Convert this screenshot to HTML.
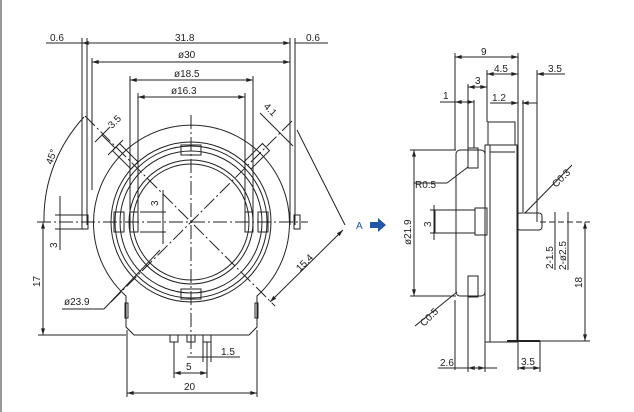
<!DOCTYPE html>
<html><head><meta charset="utf-8"><style>
html,body{margin:0;padding:0;background:#fff;}
svg{display:block;}
text{font-family:"Liberation Sans",sans-serif;font-size:10px;fill:#222;}
</style></head><body>
<svg width="634" height="412" viewBox="0 0 634 412" xmlns="http://www.w3.org/2000/svg">
<defs>
<marker id="a" viewBox="0 0 10 6" refX="10" refY="3" markerWidth="8" markerHeight="4" orient="auto-start-reverse"><path d="M0,0L10,3L0,6z" fill="#222"/></marker>
</defs>
<line x1="1" y1="0" x2="1" y2="412" stroke="#999" stroke-width="2"/>
<g stroke="#222" stroke-width="1" fill="none">
<line x1="46" y1="43" x2="82" y2="43"/><line x1="82" y1="43" x2="290" y2="43" marker-start="url(#a)" marker-end="url(#a)"/><line x1="295" y1="43" x2="328" y2="43"/>
<line x1="82" y1="38" x2="82" y2="225"/><line x1="87" y1="38" x2="87" y2="225"/>
<line x1="290" y1="38" x2="290" y2="225"/><line x1="295" y1="38" x2="295" y2="225"/>
<line x1="92" y1="62" x2="290" y2="62" marker-start="url(#a)" marker-end="url(#a)"/><line x1="92" y1="58" x2="92" y2="190"/>
<line x1="130" y1="80" x2="253" y2="80" marker-start="url(#a)" marker-end="url(#a)"/><line x1="130" y1="76" x2="130" y2="225"/><line x1="253" y1="76" x2="253" y2="225"/>
<line x1="138" y1="97" x2="245" y2="97" marker-start="url(#a)" marker-end="url(#a)"/><line x1="138" y1="93" x2="138" y2="225"/><line x1="245" y1="93" x2="245" y2="225"/>
<path d="M126,296 A98,98 0 1 1 257,296 L257,327 L249,335 L134,335 L126,327 Z"/>
<rect x="125" y="303" width="3" height="15"/><rect x="255" y="303" width="3" height="15"/>
<circle cx="191" cy="222" r="80"/><circle cx="191" cy="222" r="76"/><circle cx="191" cy="222" r="71"/>
<circle cx="191" cy="222" r="62"/><circle cx="191" cy="222" r="58"/>
<rect x="181" y="145" width="20" height="10"/><rect x="181" y="289" width="20" height="10"/>
<rect x="114" y="212" width="10" height="20"/><rect x="258" y="212" width="10" height="20"/>
<rect x="130" y="212" width="8" height="20"/><rect x="245" y="212" width="8" height="20"/>
<rect x="82" y="215" width="6" height="14"/><rect x="294" y="215" width="6" height="14"/>
<rect x="170" y="335" width="8" height="7"/><rect x="187" y="335" width="8" height="7"/><rect x="203" y="335" width="8" height="7"/>
<g transform="rotate(-45 191 222)"><rect x="186" y="116" width="10" height="26"/></g>
<g transform="rotate(45 191 222)"><rect x="186" y="116" width="10" height="26"/></g>
<g stroke-dasharray="14,3,2,3"><line x1="191" y1="115" x2="191" y2="355"/><line x1="37" y1="222" x2="308" y2="222"/>
<line x1="85" y1="116" x2="275" y2="306"/><line x1="292" y1="121" x2="110" y2="303"/></g>
<path d="M84,117 A150,150 0 0 0 44,222"/>
<line x1="95" y1="142" x2="110" y2="127"/><line x1="108" y1="155" x2="123" y2="140"/><line x1="102" y1="135" x2="115" y2="148"/>
<line x1="260" y1="113" x2="293" y2="146"/>
<line x1="270" y1="302" x2="343" y2="230" marker-start="url(#a)" marker-end="url(#a)"/><line x1="297" y1="130" x2="345" y2="225"/>
<line x1="55" y1="215" x2="82" y2="215"/><line x1="55" y1="229" x2="82" y2="229"/><line x1="60" y1="196" x2="60" y2="250"/>
<line x1="140" y1="212" x2="166" y2="212"/><line x1="140" y1="232" x2="166" y2="232"/><line x1="163" y1="190" x2="163" y2="244"/>
<line x1="38" y1="335" x2="126" y2="335"/><line x1="43" y1="222" x2="43" y2="335" marker-start="url(#a)" marker-end="url(#a)"/>
<line x1="62" y1="309" x2="104" y2="309"/><line x1="104" y1="309" x2="160" y2="250"/>
<line x1="127" y1="330" x2="127" y2="397"/><line x1="257" y1="330" x2="257" y2="397"/>
<line x1="127" y1="393" x2="257" y2="393" marker-start="url(#a)" marker-end="url(#a)"/>
<line x1="174" y1="342" x2="174" y2="378"/><line x1="207" y1="342" x2="207" y2="378"/>
<line x1="174" y1="373" x2="207" y2="373" marker-start="url(#a)" marker-end="url(#a)"/>
<line x1="203" y1="342" x2="203" y2="362"/><line x1="211" y1="342" x2="211" y2="362"/>
<line x1="187" y1="357" x2="240" y2="357"/>
<line x1="455" y1="53" x2="455" y2="150"/><line x1="518" y1="53" x2="518" y2="370"/>
<line x1="455" y1="57" x2="518" y2="57" marker-start="url(#a)" marker-end="url(#a)"/>
<line x1="487" y1="70" x2="487" y2="122"/><line x1="487" y1="74" x2="518" y2="74" marker-start="url(#a)" marker-end="url(#a)"/>
<line x1="537" y1="74" x2="565" y2="74" marker-start="url(#a)"/><line x1="537" y1="70" x2="537" y2="222"/>
<line x1="468" y1="87" x2="487" y2="87" marker-start="url(#a)" marker-end="url(#a)"/><line x1="468" y1="84" x2="468" y2="150"/><line x1="474" y1="100" x2="474" y2="148"/>
<line x1="440" y1="102" x2="455" y2="102"/><line x1="455" y1="102" x2="474" y2="102" marker-start="url(#a)" marker-end="url(#a)"/>
<line x1="490" y1="103" x2="518" y2="103" marker-end="url(#a)"/><line x1="522" y1="103" x2="537" y2="103" marker-start="url(#a)"/><line x1="523" y1="100" x2="523" y2="212"/>
<rect x="456" y="150" width="29" height="146" rx="4"/>
<rect x="468" y="148" width="10" height="20"/><rect x="468" y="276" width="10" height="21"/>
<rect x="485" y="145" width="32" height="197"/><line x1="490" y1="145" x2="490" y2="342"/>
<rect x="488" y="122" width="27" height="23"/><line x1="490" y1="152" x2="515" y2="152"/>
<line x1="410" y1="150" x2="456" y2="150"/><line x1="410" y1="296" x2="456" y2="296"/>
<line x1="414" y1="150" x2="414" y2="296" marker-start="url(#a)" marker-end="url(#a)"/>
<rect x="435" y="210" width="40" height="23"/><rect x="475" y="208" width="12" height="27"/>
<rect x="517" y="213" width="25" height="17" rx="3"/>
<line x1="430" y1="210" x2="435" y2="210"/><line x1="430" y1="233" x2="435" y2="233"/><line x1="434" y1="205" x2="434" y2="240"/>
<line x1="507" y1="341" x2="540" y2="341" stroke-width="2"/>
<line x1="540" y1="222" x2="590" y2="222" stroke-dasharray="6,3"/>
<line x1="530" y1="341" x2="590" y2="341"/><line x1="585" y1="222" x2="585" y2="341" marker-start="url(#a)" marker-end="url(#a)"/>
<line x1="555" y1="212" x2="555" y2="270"/><line x1="568" y1="212" x2="568" y2="270"/>
<line x1="455" y1="300" x2="455" y2="370"/><line x1="468" y1="296" x2="468" y2="372"/><line x1="485" y1="296" x2="485" y2="372"/>
<line x1="438" y1="368" x2="468" y2="368"/><line x1="468" y1="368" x2="485" y2="368" marker-start="url(#a)" marker-end="url(#a)"/><line x1="485" y1="368" x2="497" y2="368"/>
<line x1="540" y1="341" x2="540" y2="372"/><line x1="518" y1="368" x2="540" y2="368" marker-start="url(#a)" marker-end="url(#a)"/>
<line x1="414" y1="183" x2="447" y2="183"/><line x1="447" y1="183" x2="468" y2="167"/>
<line x1="415" y1="326" x2="457" y2="292"/>
<line x1="525" y1="213" x2="572" y2="165"/>
</g>
<path d="M370,222h8v-4l8,7l-8,7v-4h-8z" fill="#2356a8"/>
<text x="356" y="229" style="fill:#2356a8">A</text>
<text x="50" y="41">0.6</text><text x="175" y="41">31.8</text><text x="306" y="41">0.6</text>
<text x="178" y="58">ø30</text><text x="174" y="77">ø18.5</text><text x="171" y="94">ø16.3</text>
<text x="0" y="0" transform="translate(112,129) rotate(-45)">3.5</text>
<text x="0" y="0" transform="translate(263,107) rotate(45)">4.1</text>
<text x="0" y="0" transform="translate(52,165) rotate(-70)">45°</text>
<text x="0" y="0" transform="translate(158,206) rotate(-90)">3</text>
<text x="0" y="0" transform="translate(57,248) rotate(-90)">3</text>
<text x="0" y="0" transform="translate(40,287) rotate(-90)">17</text>
<text x="0" y="0" transform="translate(300,272) rotate(-45)">15.4</text>
<text x="64" y="305">ø23.9</text>
<text x="221" y="355">1.5</text><text x="186" y="370">5</text><text x="184" y="390">20</text>
<text x="481" y="55">9</text><text x="494" y="72">4.5</text><text x="548" y="72">3.5</text>
<text x="475" y="84">3</text><text x="443" y="99">1</text><text x="492" y="101">1.2</text>
<text x="415" y="188">R0.5</text>
<text x="0" y="0" transform="translate(411,245) rotate(-90)">ø21.9</text>
<text x="0" y="0" transform="translate(431,227) rotate(-90)">3</text>
<text x="0" y="0" transform="translate(556,188) rotate(-45)">C0.3</text>
<text x="0" y="0" transform="translate(424,327) rotate(-45)">C0.5</text>
<text x="0" y="0" transform="translate(553,269) rotate(-90)">2-1.5</text>
<text x="0" y="0" transform="translate(566,270) rotate(-90)">2-ø2.5</text>
<text x="0" y="0" transform="translate(582,288) rotate(-90)">18</text>
<text x="440" y="366">2.6</text><text x="521" y="365">3.5</text>
</svg>
</body></html>
